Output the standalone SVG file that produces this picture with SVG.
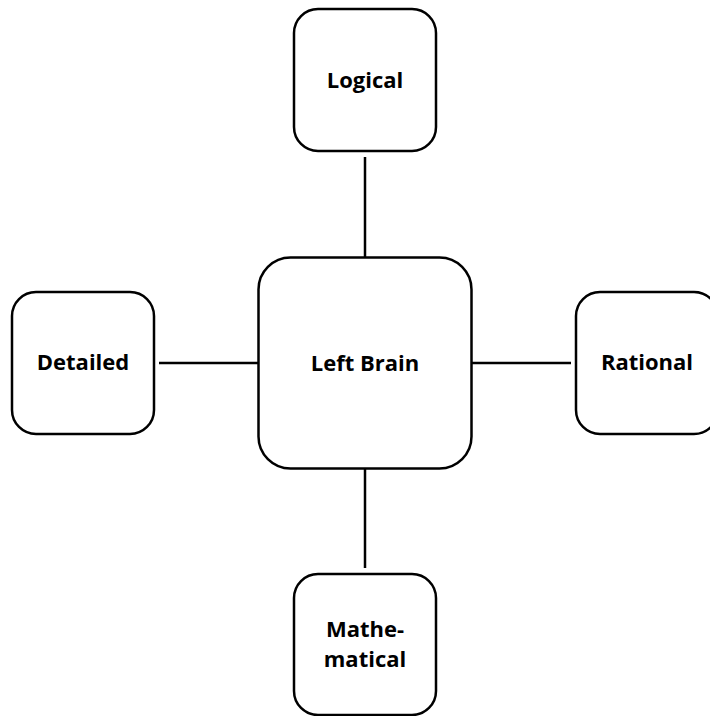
<svg xmlns="http://www.w3.org/2000/svg" width="710" height="716" viewBox="0 0 710 716">
  <style>
    .box { fill: #ffffff; stroke: #000000; stroke-width: 2.5; }
    .link { stroke: #000000; stroke-width: 2.5; fill: none; }
    .label { font-family: "Open Sans", "Liberation Sans", Arial, sans-serif; font-weight: bold; font-size: 22px; text-anchor: middle; fill: #000000; }
  </style>
  <rect width="710" height="716" fill="#ffffff"/>

  <!-- connectors from the central node to each satellite -->
  <g id="connectors">
    <line class="link" x1="365" y1="157" x2="365" y2="257"/>
    <line class="link" x1="159" y1="363" x2="258" y2="363"/>
    <line class="link" x1="472" y1="363" x2="571" y2="363"/>
    <line class="link" x1="365" y1="469" x2="365" y2="568"/>
  </g>

  <g id="left-brain">
    <rect class="box" x="258.5" y="257.5" width="213" height="211" rx="32" ry="32"/>
    <text class="label" x="365" y="371">Left Brain</text>
  </g>

  <g id="logical">
    <rect class="box" x="294" y="9" width="142" height="142" rx="24" ry="24"/>
    <text class="label" x="365" y="88">Logical</text>
  </g>

  <g id="detailed">
    <rect class="box" x="12" y="292" width="142" height="142" rx="24" ry="24"/>
    <text class="label" x="83" y="370">Detailed</text>
  </g>

  <g id="rational">
    <rect class="box" x="576" y="292" width="142" height="142" rx="24" ry="24"/>
    <text class="label" x="647" y="370">Rational</text>
  </g>

  <g id="mathematical">
    <rect class="box" x="294" y="574" width="142" height="141" rx="24" ry="24"/>
    <text class="label" x="365" y="637">Mathe-</text>
    <text class="label" x="365" y="667">matical</text>
  </g>
</svg>
